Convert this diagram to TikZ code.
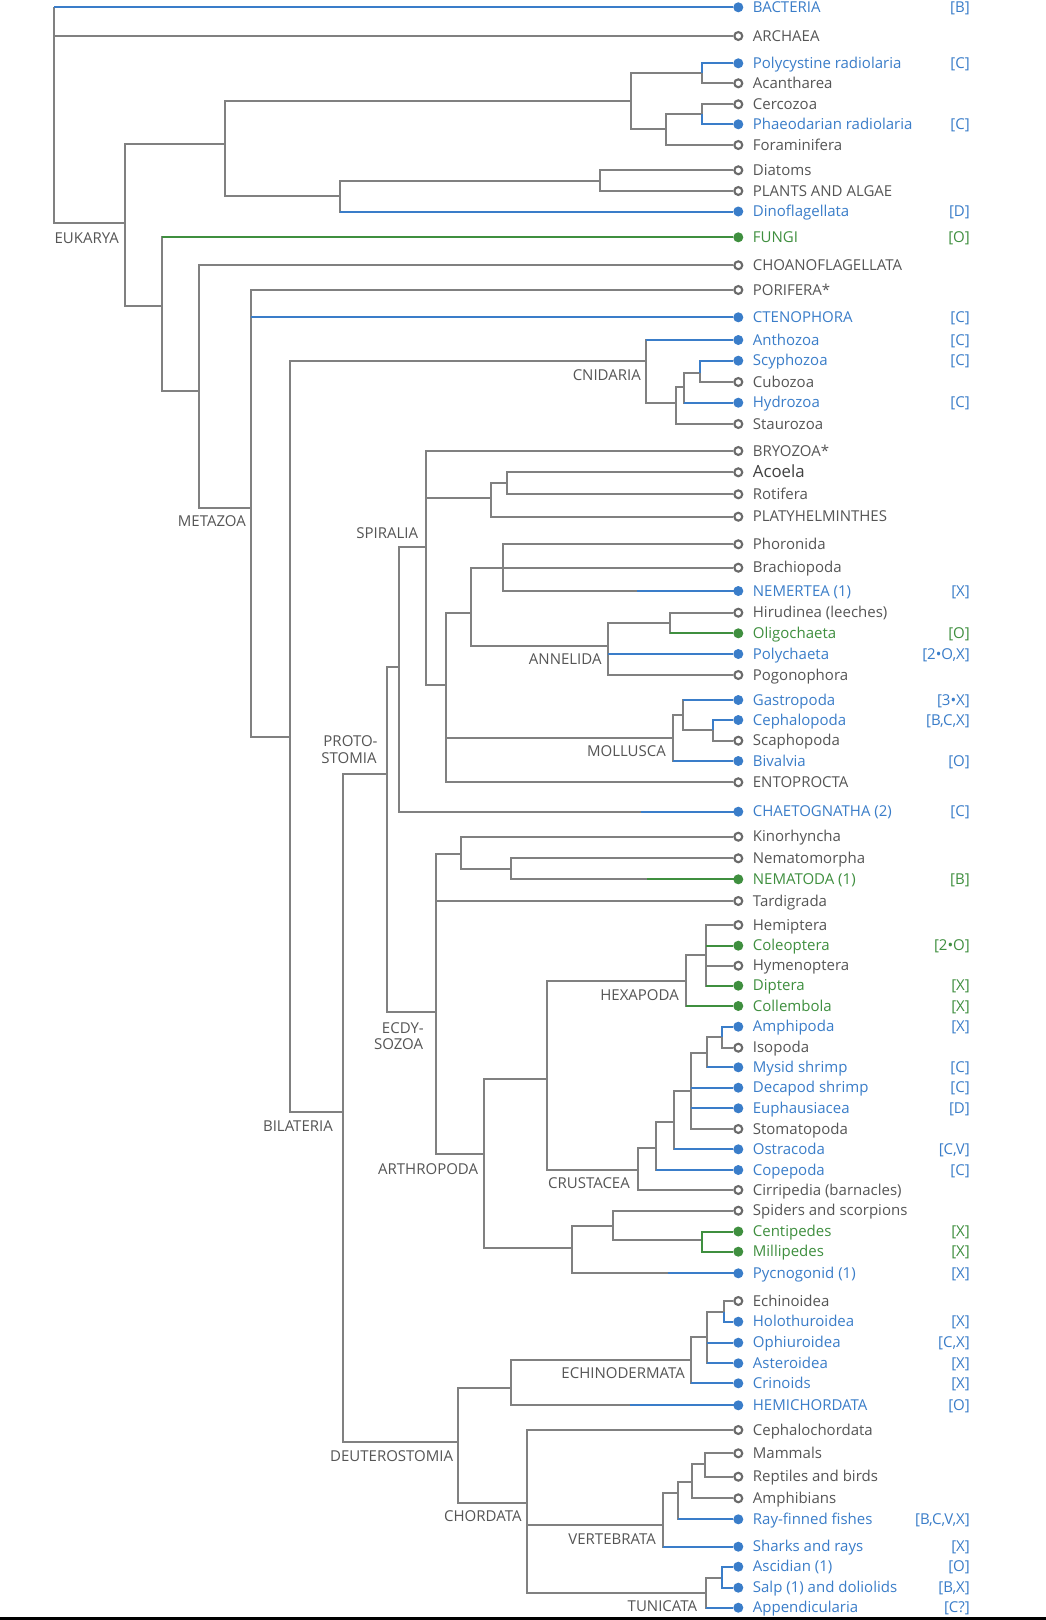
\documentclass[tikz,border=0pt]{standalone}
\usepackage{fontspec}
\setmainfont{Open Sans}
\definecolor{lgray}{HTML}{808080}
\definecolor{cdark}{HTML}{6A6A6A}
\definecolor{tgray}{HTML}{555555}
\definecolor{cblue}{HTML}{3A7DC9}
\definecolor{cgreen}{HTML}{3F8F3F}
\newcommand\myfs{\fontsize{15}{17.5}\selectfont}
\newcommand\lf[5]{%
  \node[leaf#3] (#1) at (738.3,#2) {};
  \node[lab,txt#3] (#1-t) at (752.7,#2+5.2) {#4};
  \if\relax\detokenize{#5}\relax\else
  \node[brk,txt#3] (#1-b) at (970,#2+5.2) {#5};\fi}
\newcommand\grp[4]{\node[grp] (#1) at (#2,#3+5.2) {#4};}
\begin{document}
\begin{tikzpicture}[x=1pt,y=-1pt,
  edge/.style={draw=lgray,line width=2pt},
  eb/.style={draw=cblue,line width=2pt},
  eg/.style={draw=cgreen,line width=2pt},
  leafo/.style={circle,draw=cdark,fill=white,line width=2.1pt,minimum size=7.9pt,inner sep=0pt},
  leafb/.style={circle,fill=cblue,minimum size=10pt,inner sep=0pt},
  leafg/.style={circle,fill=cgreen,minimum size=10pt,inner sep=0pt},
  txto/.style={text=tgray},txtb/.style={text=cblue},txtg/.style={text=cgreen},
  lab/.style={font=\myfs,inner sep=0pt,anchor=base west},
  brk/.style={font=\myfs,inner sep=0pt,anchor=base east},
  grp/.style={font=\myfs,inner sep=0pt,anchor=base east,text=tgray}]
\fill[white] (0,0) rectangle (1046,1620);
\path[use as bounding box] (0,0) rectangle (1046,1620);
\fill[black] (0,1616.5) rectangle (1046,1620);
% internal nodes
\coordinate (nRoot) at (54.3,7.3);
\coordinate (nEuk) at (125,223.3);
\coordinate (nSar) at (225.3,144.3);
\coordinate (nRhiz) at (631,101);
\coordinate (nRad) at (701.7,72.7);
\coordinate (nRf) at (666,129.3);
\coordinate (nCp) at (701.7,114.3);
\coordinate (nPl) at (340,195.7);
\coordinate (nDiat) at (600,181);
\coordinate (nOpis) at (162.3,306);
\coordinate (nHolo) at (199.3,390.7);
\coordinate (nMeta) at (251,508.3);
\coordinate (nEum) at (290,736.7);
\coordinate (nCnid) at (646,360.7);
\coordinate (nCn2) at (676,403.3);
\coordinate (nCn3) at (684.3,386.7);
\coordinate (nCn4) at (700,372.7);
\coordinate (nBil) at (343,1111.7);
\coordinate (nProt) at (387.3,774);
\coordinate (nSpir) at (399.3,667.3);
\coordinate (nSp1) at (425.7,546.7);
\coordinate (nSp2) at (490.5,498.3);
\coordinate (nSp3) at (507,482.5);
\coordinate (nLoph) at (445.7,685);
\coordinate (nLo1) at (470.7,612.7);
\coordinate (nLo2) at (502.7,567.7);
\coordinate (nAnn) at (608.3,646);
\coordinate (nAn1) at (670,622.7);
\coordinate (nMoll) at (673,737.7);
\coordinate (nMo1) at (683,715);
\coordinate (nMo2) at (713.3,730);
\coordinate (nEcd) at (435.7,1011.7);
\coordinate (nEc1) at (460.7,854);
\coordinate (nEc2) at (511,869.3);
\coordinate (nArth) at (484,1154);
\coordinate (nPanc) at (547.3,1079);
\coordinate (nHex) at (685.7,981);
\coordinate (nHx1) at (706,955);
\coordinate (nCrus) at (638.3,1170);
\coordinate (nCr1) at (656,1148.3);
\coordinate (nCr2) at (674,1121.7);
\coordinate (nCr3) at (690.7,1090.7);
\coordinate (nCr4) at (707,1052.7);
\coordinate (nCr5) at (721.7,1036.7);
\coordinate (nChel) at (572.3,1248.3);
\coordinate (nCh1) at (613.3,1225.7);
\coordinate (nCh2) at (702.3,1240);
\coordinate (nDeut) at (457.7,1442.3);
\coordinate (nAmb) at (511,1387.7);
\coordinate (nEchi) at (690.5,1360);
\coordinate (nEd1) at (707,1337.3);
\coordinate (nEd2) at (724,1311.7);
\coordinate (nChor) at (526.7,1503.3);
\coordinate (nVert) at (662.7,1525);
\coordinate (nVe1) at (678.3,1493.3);
\coordinate (nVe2) at (691.7,1481.7);
\coordinate (nVe3) at (705.3,1464.3);
\coordinate (nTun) at (705.7,1593.3);
\coordinate (nTu1) at (721.7,1577.7);
% leaves
\lf{bact}{7.3}{b}{BACTERIA}{[B]}
\lf{arch}{36}{o}{ARCHAEA}{}
\lf{poly}{63.3}{b}{Polycystine radiolaria}{[C]}
\lf{acan}{83.3}{o}{Acantharea}{}
\lf{cerc}{104.3}{o}{Cercozoa}{}
\lf{phae}{124.3}{b}{Phaeodarian radiolaria}{[C]}
\lf{fora}{145}{o}{Foraminifera}{}
\lf{diat}{170.3}{o}{Diatoms}{}
\lf{plan}{191}{o}{PLANTS AND ALGAE}{}
\lf{dino}{211.5}{b}{Dinoflagellata}{[D]}
\lf{fung}{237.3}{g}{FUNGI}{[O]}
\lf{choa}{265.3}{o}{CHOANOFLAGELLATA}{}
\lf{pori}{290}{o}{PORIFERA*}{}
\lf{cten}{317.3}{b}{CTENOPHORA}{[C]}
\lf{anth}{340}{b}{Anthozoa}{[C]}
\lf{scyp}{360.7}{b}{Scyphozoa}{[C]}
\lf{cubo}{382}{o}{Cubozoa}{}
\lf{hydr}{402.7}{b}{Hydrozoa}{[C]}
\lf{stau}{424}{o}{Staurozoa}{}
\lf{bryo}{451}{o}{BRYOZOA*}{}
\lf{acoe}{472.3}{o}{{\fontsize{16.8}{18}\selectfont\color{black!75}Acoela}}{}
\lf{roti}{494.3}{o}{Rotifera}{}
\lf{plat}{516.7}{o}{PLATYHELMINTHES}{}
\lf{phor}{544.3}{o}{Phoronida}{}
\lf{brac}{567.7}{o}{Brachiopoda}{}
\lf{neme}{591}{b}{NEMERTEA (1)}{[X]}
\lf{hiru}{612.7}{o}{Hirudinea (leeches)}{}
\lf{olig}{633.3}{g}{Oligochaeta}{[O]}
\lf{polc}{654}{b}{Polychaeta}{[2•O,X]}
\lf{pogo}{675}{o}{Pogonophora}{}
\lf{gast}{700}{b}{Gastropoda}{[3•X]}
\lf{ceph}{720}{b}{Cephalopoda}{[B,C,X]}
\lf{scap}{740.7}{o}{Scaphopoda}{}
\lf{biva}{761}{b}{Bivalvia}{[O]}
\lf{ento}{782.3}{o}{ENTOPROCTA}{}
\lf{chae}{811.7}{b}{CHAETOGNATHA (2)}{[C]}
\lf{kino}{836.7}{o}{Kinorhyncha}{}
\lf{nmph}{858.3}{o}{Nematomorpha}{}
\lf{nema}{879.3}{g}{NEMATODA (1)}{[B]}
\lf{tard}{901}{o}{Tardigrada}{}
\lf{hemi}{925}{o}{Hemiptera}{}
\lf{cole}{945.7}{g}{Coleoptera}{[2•O]}
\lf{hyme}{965.7}{o}{Hymenoptera}{}
\lf{dipt}{985.7}{g}{Diptera}{[X]}
\lf{coll}{1006}{g}{Collembola}{[X]}
\lf{amph}{1026.7}{b}{Amphipoda}{[X]}
\lf{isop}{1047.7}{o}{Isopoda}{}
\lf{mysi}{1067.3}{b}{Mysid shrimp}{[C]}
\lf{deca}{1087.7}{b}{Decapod shrimp}{[C]}
\lf{euph}{1108.3}{b}{Euphausiacea}{[D]}
\lf{stom}{1129}{o}{Stomatopoda}{}
\lf{ostr}{1149.3}{b}{Ostracoda}{[C,V]}
\lf{cope}{1170}{b}{Copepoda}{[C]}
\lf{cirr}{1190}{o}{Cirripedia (barnacles)}{}
\lf{spid}{1210.7}{o}{Spiders and scorpions}{}
\lf{cent}{1231.5}{g}{Centipedes}{[X]}
\lf{mill}{1251.7}{g}{Millipedes}{[X]}
\lf{pycn}{1273.3}{b}{Pycnogonid (1)}{[X]}
\lf{echn}{1301}{o}{Echinoidea}{}
\lf{holt}{1321.7}{b}{Holothuroidea}{[X]}
\lf{ophi}{1342.7}{b}{Ophiuroidea}{[C,X]}
\lf{aste}{1363.3}{b}{Asteroidea}{[X]}
\lf{crin}{1383.3}{b}{Crinoids}{[X]}
\lf{hemc}{1405.3}{b}{HEMICHORDATA}{[O]}
\lf{cchd}{1430}{o}{Cephalochordata}{}
\lf{mamm}{1453.3}{o}{Mammals}{}
\lf{rept}{1476.7}{o}{Reptiles and birds}{}
\lf{amphb}{1498.3}{o}{Amphibians}{}
\lf{rayf}{1519.3}{b}{Ray-finned fishes}{[B,C,V,X]}
\lf{shar}{1546.7}{b}{Sharks and rays}{[X]}
\lf{asci}{1566.7}{b}{Ascidian (1)}{[O]}
\lf{salp}{1587.7}{b}{Salp (1) and doliolids}{[B,X]}
\lf{appe}{1607.7}{b}{Appendicularia}{[C?]}
% group labels
\grp{gEuk}{119}{238}{EUKARYA}
\grp{gMeta}{246}{521.7}{METAZOA}
\grp{gCnid}{641}{375}{CNIDARIA}
\grp{gSpir}{418.3}{533.3}{SPIRALIA}
\grp{gProtA}{377.7}{741.7}{PROTO-}
\grp{gProtB}{376.7}{758.3}{STOMIA}
\grp{gEcdA}{424}{1028.3}{ECDY-}
\grp{gEcdB}{423.3}{1044}{SOZOA}
\grp{gBil}{333}{1126.7}{BILATERIA}
\grp{gAnn}{601.7}{659.3}{ANNELIDA}
\grp{gMoll}{666}{751}{MOLLUSCA}
\grp{gArth}{478.3}{1169.3}{ARTHROPODA}
\grp{gHex}{679}{995.7}{HEXAPODA}
\grp{gCrus}{630}{1183.3}{CRUSTACEA}
\grp{gEchi}{685}{1373.3}{ECHINODERMATA}
\grp{gDeut}{453.3}{1456.7}{DEUTEROSTOMIA}
\grp{gChor}{521.7}{1516.7}{CHORDATA}
\grp{gVert}{656}{1539.3}{VERTEBRATA}
\grp{gTun}{697.3}{1606}{TUNICATA}
% gray tree edges
\foreach \p/\c in {nRoot/bact,nRoot/arch,nRoot/nEuk,
  nEuk/nSar,nEuk/nOpis,nSar/nRhiz,nSar/nPl,nRhiz/nRad,nRhiz/nRf,
  nRad/poly,nRad/acan,nRf/nCp,nRf/fora,nCp/cerc,nCp/phae,
  nPl/nDiat,nPl/dino,nDiat/diat,nDiat/plan,
  nOpis/fung,nOpis/nHolo,nHolo/choa,nHolo/nMeta,
  nMeta/pori,nMeta/cten,nMeta/nEum,nEum/nCnid,nEum/nBil,
  nCnid/anth,nCnid/nCn2,nCn2/nCn3,nCn2/stau,nCn3/nCn4,nCn3/hydr,nCn4/scyp,nCn4/cubo,
  nBil/nProt,nBil/nDeut,nProt/nSpir,nProt/nEcd,
  nSpir/nSp1,nSpir/chae,nSp1/bryo,nSp1/nSp2,nSp1/nLoph,
  nSp2/nSp3,nSp2/plat,nSp3/acoe,nSp3/roti,
  nLoph/nLo1,nLoph/nMoll,nLoph/ento,nLo1/nLo2,nLo1/nAnn,
  nLo2/phor,nLo2/brac,nLo2/neme,nAnn/nAn1,nAnn/polc,nAnn/pogo,nAn1/hiru,nAn1/olig,
  nMoll/nMo1,nMoll/biva,nMo1/gast,nMo1/nMo2,nMo2/ceph,nMo2/scap,
  nEcd/nEc1,nEcd/tard,nEcd/nArth,nEc1/kino,nEc1/nEc2,nEc2/nmph,nEc2/nema,
  nArth/nPanc,nArth/nChel,nPanc/nHex,nPanc/nCrus,
  nHex/nHx1,nHex/coll,nHx1/hemi,nHx1/cole,nHx1/hyme,nHx1/dipt,
  nCrus/nCr1,nCrus/cirr,nCr1/nCr2,nCr1/cope,nCr2/nCr3,nCr2/ostr,
  nCr3/nCr4,nCr3/deca,nCr3/euph,nCr3/stom,nCr4/nCr5,nCr4/mysi,nCr5/amph,nCr5/isop,
  nChel/nCh1,nChel/pycn,nCh1/spid,nCh1/nCh2,nCh2/cent,nCh2/mill,
  nDeut/nAmb,nDeut/nChor,nAmb/nEchi,nAmb/hemc,nEchi/nEd1,nEchi/crin,
  nEd1/nEd2,nEd1/ophi,nEd1/aste,nEd2/echn,nEd2/holt,
  nChor/cchd,nChor/nVert,nChor/nTun,nVert/nVe1,nVert/shar,
  nVe1/nVe2,nVe1/rayf,nVe2/nVe3,nVe2/amphb,nVe3/mamm,nVe3/rept,
  nTun/nTu1,nTun/appe,nTu1/asci,nTu1/salp}
  {\draw[edge] (\p) |- (\c);}
% coloured branches
\draw[eb] (nRoot) -- (bact);
\draw[eb] (nRad) |- (poly);
\draw[eb] (nCp) |- (phae);
\draw[eb] (nPl |- dino) -- (dino);
\draw[eg] (nOpis |- fung) -- (fung);
\draw[eb] (nMeta |- cten) -- (cten);
\draw[eb] (nCnid |- anth) -- (anth);
\draw[eb] (nCn4) |- (scyp);
\draw[eb] (nCn3 |- hydr) -- (hydr);
\draw[eb] (neme.center) -- ++(-101.3,0);
\draw[eg] (nAn1 |- olig) -- (olig);
\draw[eb] (nAnn |- polc) -- (polc);
\draw[eb] (nMo1 |- gast) -- (gast);
\draw[eb] (nMo2) |- (ceph);
\draw[eb] (nMoll |- biva) -- (biva);
\draw[eb] (chae.center) -- ++(-97.6,0);
\draw[eg] (nema.center) -- ++(-91.6,0);
\draw[eg] (nHx1 |- cole) -- (cole);
\draw[eg] (nHx1 |- dipt) -- (dipt);
\draw[eg] (nHex |- coll) -- (coll);
\draw[eb] (nCr5) |- (amph);
\draw[eb] (nCr4 |- mysi) -- (mysi);
\draw[eb] (nCr3 |- deca) -- (deca);
\draw[eb] (nCr3 |- euph) -- (euph);
\draw[eb] (nCr2 |- ostr) -- (ostr);
\draw[eb] (nCr1 |- cope) -- (cope);
\draw[eg] (nCh2) |- (cent);
\draw[eg] (nCh2) |- (mill);
\draw[eb] (pycn.center) -- ++(-70.3,0);
\draw[eb] (nEd2) |- (holt);
\draw[eb] (nEd1 |- ophi) -- (ophi);
\draw[eb] (nEd1 |- aste) -- (aste);
\draw[eb] (nEchi |- crin) -- (crin);
\draw[eb] (hemc.center) -- ++(-108.3,0);
\draw[eb] (nVe1 |- rayf) -- (rayf);
\draw[eb] (nVert |- shar) -- (shar);
\draw[eb] (nTu1) |- (asci);
\draw[eb] (nTu1) |- (salp);
\draw[eb] (nTun |- appe) -- (appe);
\end{tikzpicture}
\end{document}
